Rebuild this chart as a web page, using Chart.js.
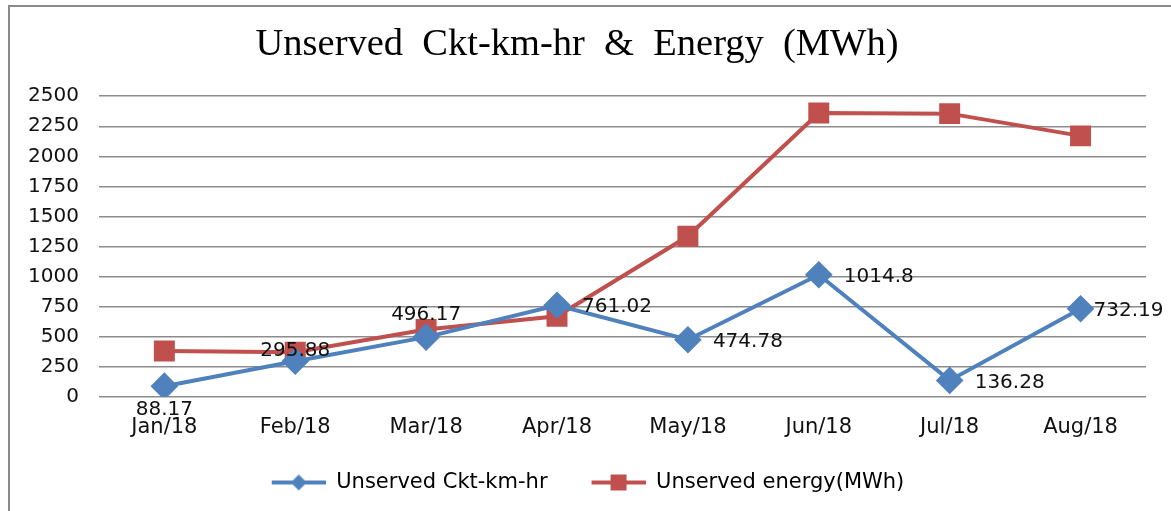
<!DOCTYPE html>
<html>
<head>
<meta charset="utf-8">
<script src="https://cdn.jsdelivr.net/npm/chart.js@4.4.1/dist/chart.umd.min.js"></script>
<style>
  html, body { margin: 0; padding: 0; background: #fff; }
  #frame { position: absolute; left: 8px; top: 5px; width: 1200px; height: 520px; border: 2px solid #8a8a8a; box-sizing: border-box; }
  #wrap { position: absolute; left: 0; top: 0; width: 1171px; height: 511px; }
</style>
</head>
<body>
<div id="frame"></div>
<div id="wrap"><canvas id="chart" width="1171" height="511"></canvas></div>
<script>
// data
const months = ['Jan/18', 'Feb/18', 'Mar/18', 'Apr/18', 'May/18', 'Jun/18', 'Jul/18', 'Aug/18'];
const ckt = [88.17, 295.88, 496.17, 761.02, 474.78, 1014.8, 136.28, 732.19];
const energy = [380, 370, 560, 670, 1335, 2360, 2355, 2170];
const yTicks = [0, 250, 500, 750, 1000, 1250, 1500, 1750, 2000, 2250, 2500];

const BLUE = '#4f81bd';
const RED = '#c0504d';

// where each ckt label sits relative to its point
const labelSpots = ['below', 'center', 'above', 'right', 'right', 'right', 'right', 'right'];

// legend swatch: line with marker, blank lead-in on the left for item spacing
function legendIcon(color, shape) {
    const lead = 22;
    const c = document.createElement('canvas');
    c.width = 54 + lead; c.height = 20;
    const g = c.getContext('2d');
    g.strokeStyle = color; g.lineWidth = 4;
    g.beginPath(); g.moveTo(lead, 10); g.lineTo(lead + 54, 10); g.stroke();
    g.fillStyle = color;
    g.beginPath();
    const cx = lead + 27;
    if (shape === 'diamond') {
        g.moveTo(cx, 2); g.lineTo(cx + 8, 10); g.lineTo(cx, 18); g.lineTo(cx - 8, 10);
    } else {
        g.rect(cx - 8, 2, 16, 16);
    }
    g.closePath(); g.fill();
    return c;
}
const icons = [legendIcon(BLUE, 'diamond'), legendIcon(RED, 'square')];

const valueLabels = {
    id: 'valueLabels',
    afterDatasetsDraw(chart) {
        const ctx = chart.ctx;
        const meta = chart.getDatasetMeta(0);
        ctx.save();
        ctx.font = '20px "DejaVu Sans"';
        ctx.fillStyle = '#111';
        ctx.textBaseline = 'middle';
        meta.data.forEach((pt, i) => {
            const txt = String(ckt[i]);
            let x = pt.x, y = pt.y;
            const spot = labelSpots[i];
            if (spot === 'below') { ctx.textAlign = 'center'; y += 24; }
            else if (spot === 'above') { ctx.textAlign = 'center'; y -= 22; }
            else if (spot === 'center') { ctx.textAlign = 'center'; y -= 10; }
            else { ctx.textAlign = 'left'; x += i === 7 ? 13 : 25; y += 2; }
            ctx.fillText(txt, x, y);
        });
        ctx.restore();
    }
};

new Chart(document.getElementById('chart'), {
    type: 'line',
    data: {
        labels: months,
        datasets: [
            {
                label: 'Unserved Ckt-km-hr',
                data: ckt,
                borderColor: BLUE,
                backgroundColor: BLUE,
                borderWidth: 4,
                pointStyle: 'rectRot',
                pointRadius: 11,
                pointHoverRadius: 11,
                tension: 0
            },
            {
                label: 'Unserved energy(MWh)',
                data: energy,
                borderColor: RED,
                backgroundColor: RED,
                borderWidth: 4,
                pointStyle: 'rect',
                pointRadius: 12,
                pointHoverRadius: 12,
                tension: 0
            }
        ]
    },
    options: {
        responsive: false,
        animation: false,
        layout: { padding: { left: 8, right: 25, top: 10, bottom: 8 } },
        plugins: {
            title: {
                display: true,
                text: 'Unserved  Ckt-km-hr  &  Energy  (MWh)',
                color: '#000',
                font: { family: '"Liberation Serif", "Times New Roman", serif', size: 38.5, weight: 'normal' },
                padding: { top: 12, bottom: 28 }
            },
            legend: {
                position: 'bottom',
                labels: {
                    color: '#111',
                    font: { family: '"DejaVu Sans"', size: 21 },
                    usePointStyle: true,
                    pointStyleWidth: 76,
                    boxHeight: 20,
                    padding: 22,
                    generateLabels(chart) {
                        return chart.data.datasets.map((ds, i) => ({
                            text: ds.label,
                            pointStyle: icons[i],
                            fillStyle: ds.borderColor,
                            strokeStyle: ds.borderColor,
                            lineWidth: 0,
                            datasetIndex: i
                        }));
                    }
                }
            },
            tooltip: { enabled: false }
        },
        scales: {
            x: {
                offset: true,
                grid: { display: false },
                border: { display: false },
                ticks: { color: '#111', font: { family: '"DejaVu Sans"', size: 21 }, padding: 10 }
            },
            y: {
                min: 0,
                max: 2500,
                afterBuildTicks(axis) { axis.ticks = yTicks.map(v => ({ value: v })); },
                grid: { color: '#8c8c8c', lineWidth: 1.5, drawTicks: false },
                border: { display: false },
                ticks: {
                    color: '#111',
                    font: { family: '"DejaVu Sans"', size: 20 },
                    padding: 20,
                    callback: v => String(v)
                }
            }
        }
    },
    plugins: [valueLabels]
});
</script>
</body>
</html>
